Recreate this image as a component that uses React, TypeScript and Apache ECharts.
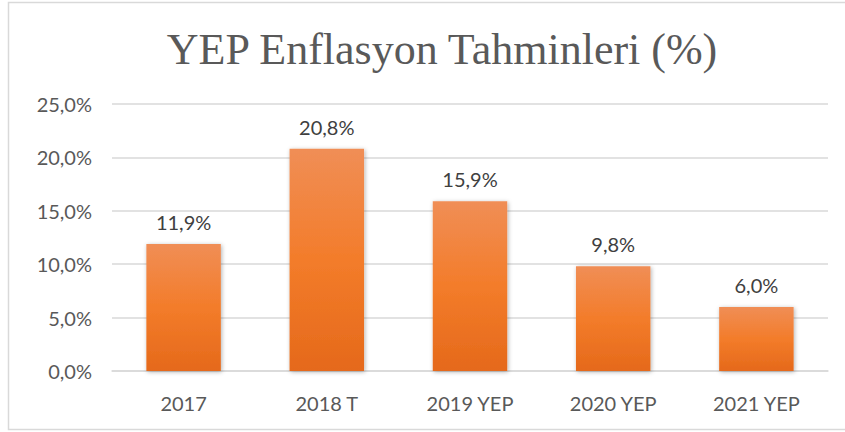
import React, { useEffect, useRef } from "react";
import * as echarts from "echarts";

const categories = ["2017", "2018 T", "2019 YEP", "2020 YEP", "2021 YEP"];
const values = [11.9, 20.8, 15.9, 9.8, 6.0];
const chartTitle = "YEP Enflasyon Tahminleri (%)";

const fmt = (v: number) => v.toFixed(1).replace(".", ",") + "%";

export default function App() {
  const ref = useRef<HTMLDivElement>(null);
  useEffect(() => {
    document.body.style.margin = "0";
    const chart = echarts.init(ref.current!, null, { renderer: "svg" });
    chart.setOption({
      animation: false,
      backgroundColor: "#ffffff",
      title: {
        text: chartTitle,
        left: 437,
        textAlign: "center",
        top: 22,
        textStyle: {
          fontFamily: "Liberation Serif",
          fontSize: 44,
          fontWeight: "normal",
          color: "#595959",
        },
      },
      graphic: [
        {
          type: "rect",
          shape: { x: 8.5, y: 2.5, width: 860, height: 427 },
          style: { fill: "none", stroke: "#D9D9D9", lineWidth: 1.5 },
          silent: true,
          z: 100,
        },
      ],
      grid: { left: 112, right: 17, top: 104, bottom: 61 },
      xAxis: {
        type: "category",
        data: categories,
        axisTick: { show: false },
        axisLine: { lineStyle: { color: "#D9D9D9", width: 1.5 } },
        axisLabel: {
          color: "#595959",
          fontFamily: "Lato",
          fontSize: 20,
          margin: 22,
        },
      },
      yAxis: {
        type: "value",
        min: 0,
        max: 25,
        interval: 5,
        axisLine: { show: false },
        axisTick: { show: false },
        splitLine: { lineStyle: { color: "#D9D9D9", width: 1.5 } },
        axisLabel: {
          color: "#595959",
          fontFamily: "Lato",
          fontSize: 20,
          margin: 20,
          formatter: (v: number) => fmt(v),
        },
      },
      series: [
        {
          type: "bar",
          data: values,
          barWidth: "52%",
          itemStyle: {
            color: new echarts.graphic.LinearGradient(0, 0, 0, 1, [
              { offset: 0, color: "#F08E56" },
              { offset: 0.5, color: "#F37C2A" },
              { offset: 1, color: "#E5691B" },
            ]),
            shadowColor: "rgba(0,0,0,0.3)",
            shadowBlur: 4,
            shadowOffsetX: 1,
            shadowOffsetY: 1,
          },
          label: {
            show: true,
            position: "top",
            distance: 12,
            color: "#404040",
            fontFamily: "Lato",
            fontSize: 20,
            formatter: (p: any) => fmt(p.value),
          },
        },
      ],
    });
    return () => chart.dispose();
  }, []);
  return (
    <div
      ref={ref}
      style={{ position: "absolute", left: 0, top: 0, width: 845, height: 432 }}
    />
  );
}
